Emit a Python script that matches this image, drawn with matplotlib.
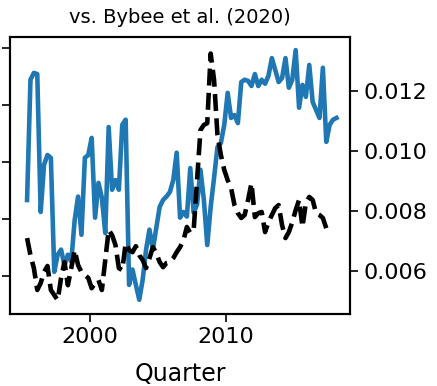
import matplotlib
matplotlib.use("Agg")
import matplotlib.pyplot as plt
import numpy as np

# quarterly series, start 1995Q2
start_year = 1995.375

# blue: left axis (its labels are cropped away in the reference)
blue_vals = [2.33, 4.44, 4.56, 4.54, 2.12, 2.95, 3.12, 3.07, 1.07, 1.37,
             1.46, 1.18, 1.37, 1.25, 1.98, 2.39, 1.72, 3.07, 3.12, 3.42,
             2.02, 2.63, 2.37, 1.75, 3.61, 2.51, 2.68, 2.51, 3.65, 3.74,
             0.84, 1.11, 0.84, 0.58, 0.93, 1.46, 1.81, 1.46, 1.84, 2.21,
             2.33, 2.39, 2.47, 2.68, 3.16, 2.02, 2.12, 2.04, 2.89, 2.11,
             2.25, 2.86, 2.33, 1.54, 2.21, 2.72, 3.26, 3.33, 3.65, 4.21,
             3.77, 3.82, 3.68, 4.40, 4.44, 4.42, 4.33, 4.54, 4.33, 4.44,
             4.37, 4.51, 4.82, 4.61, 4.40, 4.47, 4.82, 4.30, 4.44, 4.96,
             3.95, 4.35, 4.14, 4.70, 4.05, 3.91, 3.77, 4.65, 3.35, 3.65,
             3.74, 3.77]

# black dashed: Bybee et al. (2020), right axis
bybee_vals = [0.00710, 0.00653, 0.00610, 0.00537, 0.00560, 0.00597, 0.00617,
              0.00537, 0.00520, 0.00503, 0.00577, 0.00630, 0.00553, 0.00610,
              0.00670, 0.00620, 0.00597, 0.00587, 0.00577, 0.00543, 0.00560,
              0.00570, 0.00537, 0.00637, 0.00737, 0.00720, 0.00687, 0.00610,
              0.00603, 0.00693, 0.00670, 0.00663, 0.00683, 0.00653, 0.00637,
              0.00610, 0.00643, 0.00680, 0.00660, 0.00630, 0.00613, 0.00627,
              0.00630, 0.00643, 0.00663, 0.00680, 0.00703, 0.00747, 0.00727,
              0.00737, 0.00903, 0.01070, 0.01087, 0.01093, 0.01325, 0.01237,
              0.01053, 0.00987, 0.00937, 0.00903, 0.00877, 0.00820, 0.00793,
              0.00777, 0.00787, 0.00837, 0.00893, 0.00780, 0.00793, 0.00797,
              0.00730, 0.00763, 0.00787, 0.00810, 0.00820, 0.00753, 0.00710,
              0.00730, 0.00763, 0.00803, 0.00837, 0.00747, 0.00827, 0.00847,
              0.00837, 0.00793, 0.00787, 0.00777, 0.00743]

blue_q = start_year + 0.25 * np.arange(len(blue_vals))
bybee_q = start_year + 0.25 * np.arange(len(bybee_vals))

fig = plt.figure(figsize=(4.37, 3.86), dpi=100)
ax = fig.add_axes([10 / 437, 72 / 386, 340 / 437, 277 / 386])
ax2 = ax.twinx()

ax.plot(blue_q, blue_vals, color="#1f77b4", lw=3.3)
ax2.plot(bybee_q, bybee_vals, color="black", lw=3.3, ls="--")

ax.set_xlim(1994.12, 2019.12)
ax.set_xticks([2000, 2010])
ax.set_ylim(0.33, 5.19)
ax.set_yticks([1, 2, 3, 4, 5])
ax.tick_params(axis="y", labelleft=False)
ax2.set_ylim(0.00457, 0.0138)
ax2.set_yticks([0.006, 0.008, 0.010, 0.012])
ax2.set_yticklabels(["0.006", "0.008", "0.010", "0.012"])

for a in (ax, ax2):
    a.tick_params(labelsize=16, length=6, width=1.2)
    for s in a.spines.values():
        s.set_linewidth(1.5)

ax.set_xlabel("Quarter", fontsize=17, labelpad=11)
ax.set_title("vs. Bybee et al. (2020)", fontsize=14, pad=10)

fig.savefig("out.png", dpi=100)
